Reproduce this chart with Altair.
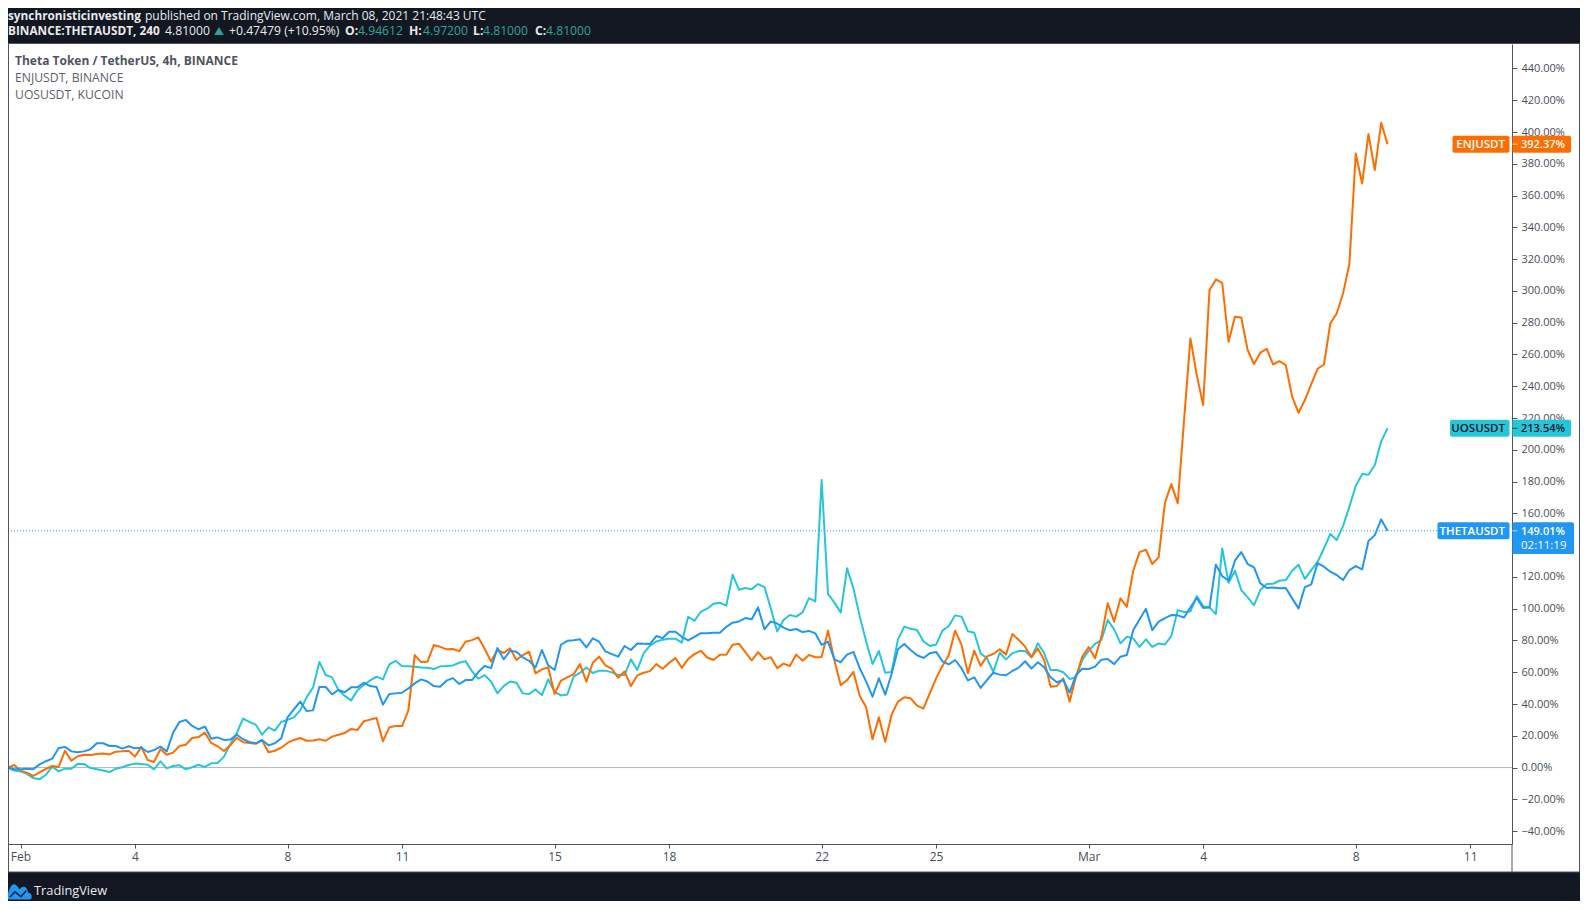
import altair as alt
import pandas as pd

FONT = "Open Sans"
DARK = "#131722"
GREY = "#4a4e59"

theta = [0,-1,-1,-0.7,-1,2,4,5.6,12.3,13,10.2,9.6,10.2,11.5,15.3,15.3,13.6,13.6,11.9,13.4,12.1,12.5,9.8,11,13.2,10.2,22,28.7,30,26.2,24.1,25.8,18.2,19,17.4,17.6,20.7,17.8,16.1,15.3,17.4,14,15.3,18.4,31.6,36.7,41.5,35.6,36,50.7,50.7,46.1,48.8,47.4,50.5,50.5,53.4,51.3,50.7,39.6,46.3,46.7,
47.1,49.8,53,55.5,54.2,51.3,50.9,54.7,56.3,52.6,55.1,55.1,60.1,63.9,62.6,75.2,68.1,73.5,72.9,69.3,67.2,63,74,64.3,61.4,77.3,79.8,80.2,80.7,75.6,81.3,79.2,73.1,71.4,69.8,76.5,74,78.1,77.9,77.7,82.8,81.5,85.5,85.5,82.3,80,82.3,84.6,84.6,84.9,84.9,88.6,91.2,92,94.1,93.3,100.8,87,92,90.7,
88.1,86.4,87.2,85.3,86,84.5,77.2,79.3,68.1,66.3,71.1,72.8,62.5,54.1,44.6,56.2,45.9,58.9,74.4,77.8,74,70.7,69,71.9,72.8,66.9,65,67.7,62.5,54.9,56.8,50.1,55.1,59.7,58.5,58.1,60.8,62.9,66.9,62.3,66.3,63.1,56.8,53.7,55.1,47.2,58.3,
62.2,62,63.5,67.9,68.3,65.1,69.8,70.8,86.5,93.2,99.9,86.5,91.8,94.1,96,95.8,94.5,100.8,106.7,100.4,100.8,127.7,120.5,117.6,130.2,135.6,128.1,126,115.9,113,113.4,112.8,113,106.5,100.2,113.6,115.3,128.7,126.4,123.3,121.2,118,124.3,126.8,124.7,142.6,146.3,156.2,149.01]

enj = [0,1.6,-1.9,-3.2,-5.3,-3,-0.9,1,0.4,10.6,4.3,7.1,8.1,7.9,8.5,8.8,8.3,10,10.2,10.6,6.9,13,4.8,3.5,11.5,8.1,9.4,13.6,14.4,18.6,19.2,22,15.5,13.4,10.4,14,18.8,15.9,15.5,15,17.1,9.6,10.6,12.5,15.5,17.4,18.6,16.9,17.1,17.8,16.9,19.5,20.7,21.8,24.3,23.7,29.1,30.2,31.2,16.5,25.3,26.2,
26.1,35.8,70.8,66.4,66.6,77.1,76,74.4,74.6,73.3,79.2,80.2,81.9,74.8,66.8,74,72.1,75,67.7,70.8,72.9,59.3,61.8,63,46.3,54.7,56.8,58.8,65.1,54,66,69.8,64.3,62.2,56.5,60.5,51.3,58,59.7,60.7,65.1,62.2,65.8,68.9,62.8,68.3,71.4,73.5,69.3,67.7,71,71,77.3,77.9,72.7,67.4,72.7,68.1,69.5,62.6,
65.4,63.9,71.1,67.3,70.9,69.4,69.6,86.2,67.7,51.8,55.1,60.2,45,37.9,17.8,31.6,16.3,33.3,41.5,44.2,43.6,39,
37.1,46.7,56.2,64,70.9,86.2,77.2,59.3,73.6,64,70,71.5,74.4,71.1,84.1,80.3,76.1,69.4,75,67.7,50.9,51.4,56.2,41.5,57.2,69.8,75.9,68.8,82.4,103.4,91.8,106.5,
101.2,123.9,135.6,137.1,128.1,132.3,166.9,178.4,166.3,
218.7,270.1,247,228.1,300.5,307.2,305.1,268,283.7,283.3,262.8,254,261.1,263.6,253.7,255.8,253.3,233.4,223.3,231.3,241.3,251,253.7,279.5,285.8,298.4,316.9,386.5,367.6,398.7,376,405.8,392.37]

uos = [0,-1.9,-2.4,-4,-6.6,-7.4,-4.5,0.6,-2.4,-0.7,-0.7,2.3,2.3,-0.3,-1.1,-1.9,-2.8,-0.7,0.2,1.6,2.5,2.3,1.8,-1.1,3.9,-0.5,1,1.4,-1.1,0.2,1.8,0.4,2.7,2.9,6.9,14.8,21.6,30.8,28.7,27,20.7,25.3,23.2,28.7,30,31.6,36.2,44.2,50.3,66.5,58.3,56.8,48.8,45.1,42.3,48.6,52,54.9,57.2,55.5,65,67.1,
63.9,63.7,63.5,63,62.8,62,63.7,63.9,64.3,66,67,60.7,55.9,58.2,54.2,46.7,51.3,54.2,53.4,46.7,46.3,49.2,45.6,55.5,47.7,45.4,46,57.2,59.7,63,59.5,61,61,59.9,58.2,58.2,68.1,61.4,71.9,76.7,79.4,80.5,81.1,81.1,78.6,94.9,92.4,98.1,100,103.1,103.7,101.9,121.4,111.9,113,112.3,115.5,113.6,100.2,85.7,
92.9,96,95,97.7,106.7,104.6,181,109.3,103.8,97.7,125.4,112.8,
95,79.3,65.2,73.4,59.7,60.2,80.7,88.7,87.4,86.6,79.5,76.5,77.4,86.2,89.1,95.8,95,85.8,84.9,71.9,68.8,60.2,72.3,68.1,71.9,73.4,73.4,69.4,78.2,71.9,61.4,61.4,60,55.8,56.8,67.7,73.6,77.8,80.3,92.9,87,78.2,
82.3,81.3,76,80.7,76,78.1,77.5,82.8,99.1,97.9,98.3,107.9,101.6,100.8,96.6,137.9,116.3,123.9,111.7,107.1,102.3,111.7,115.5,115.7,117.6,118,123.9,127.7,118.8,124.3,129.5,137.9,147,143.2,152,164.2,177.2,184.7,184.3,190.4,205.3,213.54]

assert len(theta) == len(enj) == len(uos) == 218

times = pd.date_range("2021-01-31 16:00", periods=218, freq="4h").strftime("%Y-%m-%dT%H:%M:%SZ").tolist()
series_names = ["UOSUSDT", "ENJUSDT", "THETAUSDT"]
series_colors = ["#26c6da", "#ff6d00", "#2196f3"]
series_values = [uos, enj, theta]

date_ticks = ["2021-02-01T00:00:00Z","2021-02-04T00:00:00Z","2021-02-08T00:00:00Z","2021-02-11T00:00:00Z",
              "2021-02-15T00:00:00Z","2021-02-18T00:00:00Z","2021-02-22T00:00:00Z","2021-02-25T00:00:00Z",
              "2021-03-01T00:00:00Z","2021-03-04T00:00:00Z","2021-03-08T00:00:00Z","2021-03-11T00:00:00Z"]
pct_ticks = list(range(-40, 441, 20))

X_DOMAIN = ["2021-01-31T16:08:00Z", "2021-03-12T02:18:00Z"]
Y_DOMAIN = [-48.1, 455.4]
W, H = 1504, 800
yscale = alt.Scale(domain=Y_DOMAIN, nice=False, zero=False)
xscale = alt.Scale(type="utc", domain=X_DOMAIN, nice=False)

xaxis = alt.Axis(
    values=date_ticks,
    labelExpr="utcdate(datum.value)==1 ? utcFormat(datum.value,'%b') : utcFormat(datum.value,'%-d')",
    labelFont=FONT, labelFontSize=12, labelColor=GREY, labelPadding=3, labelFlush=False,
    tickColor="#50535e", tickSize=4, domainColor="#50535e", grid=False, labelOverlap=False)
yaxis = alt.Axis(
    orient="right", values=pct_ticks, labelExpr="format(datum.value,'.2f')+'%'",
    labelFont=FONT, labelFontSize=11, labelColor=GREY, labelPadding=4,
    tickColor="#50535e", tickSize=5, domainColor="#50535e", grid=False, labelOverlap=False)
X = alt.X("t:T", scale=xscale, title=None, axis=xaxis)
Y = alt.Y("v:Q", scale=yscale, title=None, axis=yaxis)


def px(x):
    return x - 8


def py(y):
    return y - 44


one = alt.Data(values=[{"a": 1}])


def band(x1, x2, y1, y2, fill=DARK):
    return alt.Chart(one).mark_rect(fill=fill).encode(
        x=alt.value(px(x1)), x2=alt.value(px(x2)), y=alt.value(py(y1)), y2=alt.value(py(y2)))


def seg(x1, x2, y1, y2, color, width=1):
    return alt.Chart(one).mark_rule(color=color, strokeWidth=width).encode(
        x=alt.value(px(x1)), x2=alt.value(px(x2)), y=alt.value(py(y1)), y2=alt.value(py(y2)))


def txt(s, x, y, color, bold=False, size=12.2, align="left", font=FONT):
    return alt.Chart(one).mark_text(
        text=s, color=color, font=font, fontSize=size, align=align, baseline="middle",
        fontWeight="bold" if bold else "normal").encode(x=alt.value(px(x)), y=alt.value(py(y)))


layers_lines = [
    alt.Chart(alt.Data(values=[{"t": t, "v": v} for t, v in zip(times, vals)]))
    .mark_line(strokeWidth=2, strokeJoin="round", color=c).encode(x=X, y=Y)
    for vals, c in zip(series_values, series_colors)
]

zero_rule = alt.Chart(alt.Data(values=[{"v": 0}])).mark_rule(color="#b2b5be", strokeWidth=1).encode(
    y=Y, x=alt.value(0), x2=alt.value(W))
price_rule = alt.Chart(alt.Data(values=[{"v": theta[-1]}])).mark_rule(
    color="#2196f3", strokeWidth=1, strokeDash=[1, 2]).encode(
    y=Y, x=alt.value(0), x2=alt.value(px(1437)))

layers = [zero_rule, price_rule] + layers_lines

# outer frame
layers += [
    band(8, 1580, 8, 43.5), band(8, 1580, 872, 901),
    seg(8, 1580, 43.5, 43.5, "#50535e"), seg(8, 1580, 872, 872, "#50535e"),
    seg(8.5, 8.5, 43.5, 872, "#50535e"), seg(1579.5, 1579.5, 43.5, 872, "#50535e"),
    seg(1512, 1512, 844, 872, "#50535e"),
]


def tag(name, value, left, right2, fill, fg):
    out = []
    d = alt.Data(values=[{"v": value}])
    out.append(alt.Chart(d).mark_rect(height=17, fill=fill, cornerRadius=2).encode(
        x=alt.value(px(left)), x2=alt.value(px(1509.5)), y=Y))
    out.append(alt.Chart(d).mark_rect(height=17, fill=fill, cornerRadius=2).encode(
        x=alt.value(px(1512.5)), x2=alt.value(px(right2)), y=Y))
    out.append(alt.Chart(d).mark_text(text=name, color=fg, font=FONT, fontSize=11.5, fontWeight=600, align="right", dy=1).encode(
        x=alt.value(px(1505)), y=Y))
    out.append(alt.Chart(d).mark_text(text=f"{value:.2f}%", color=fg, font=FONT, fontSize=11, fontWeight=600, align="left", dy=1).encode(
        x=alt.value(px(1521)), y=Y))
    out.append(alt.Chart(d).mark_tick(color=fg, size=5, orient="horizontal", thickness=1).encode(
        x=alt.value(px(1515)), y=Y))
    return out


layers += tag("ENJUSDT", enj[-1], 1452.5, 1571, "#ff6d00", "#ffffff")
layers += tag("UOSUSDT", uos[-1], 1450, 1571, "#26c6da", DARK)
layers += [band(1512.5, 1574, 535, 554, "#2196f3")]
layers += tag("THETAUSDT", theta[-1], 1437.5, 1574, "#2196f3", "#ffffff")
layers += [txt("02:11:19", 1521, 545.5, "#ffffff", size=11.5)]

# header text
WHITE = "#e8e9ec"
TEAL = "#26a69a"
LINE1, LINE2 = 16, 31
layers += [
    txt("synchronisticinvesting", 8, LINE1, WHITE, bold=True, size=11.8),
    txt("published on TradingView.com, March 08, 2021 21:48:43 UTC", 145, LINE1, WHITE, size=12),
    txt("BINANCE:THETAUSDT, 240", 8, LINE2, WHITE, bold=True, size=11.8),
    txt("4.81000", 165, LINE2, WHITE),
    txt("+0.47479 (+10.95%)", 229, LINE2, WHITE),
    txt("O:", 345, LINE2, WHITE, bold=True), txt("4.94612", 358, LINE2, TEAL),
    txt("H:", 409, LINE2, WHITE, bold=True), txt("4.97200", 423, LINE2, TEAL),
    txt("L:", 473, LINE2, WHITE, bold=True), txt("4.81000", 483, LINE2, TEAL),
    txt("C:", 535, LINE2, WHITE, bold=True), txt("4.81000", 546, LINE2, TEAL),
    alt.Chart(one).mark_point(shape="triangle-up", filled=True, fill=TEAL, size=90, opacity=1).encode(
        x=alt.value(px(219)), y=alt.value(py(31))),
    txt("Theta Token / TetherUS, 4h, BINANCE", 15, 60.8, "#50535e", bold=True, size=12),
    txt("ENJUSDT, BINANCE", 15, 78, "#5d606b"),
    txt("UOSUSDT, KUCOIN", 15, 95.2, "#5d606b"),
    txt("TradingView", 34, 891, "#e8e9ec", size=12.8),
    alt.Chart(one).mark_point(
        shape="M-0.74,0.62 C-0.95,0.62 -1.05,0.2 -0.82,0.1 C-0.75,-0.2 -0.6,-0.56 -0.38,-0.56 C-0.15,-0.56 -0.05,-0.2 0.08,-0.2 C0.15,-0.3 0.25,-0.36 0.38,-0.36 C0.6,-0.36 0.65,-0.05 0.72,0.1 C1.05,0.15 1.05,0.6 0.8,0.62 Z",
        filled=True, fill="#2196f3", size=676, opacity=1).encode(
        x=alt.value(px(19)), y=alt.value(py(891.5))),
    alt.Chart(one).mark_point(
        shape="M-0.7,0.42 L-0.3,0.02 L0.15,0.4 L0.55,-0.05",
        filled=False, stroke=DARK, strokeWidth=1.5, size=676, opacity=1).encode(
        x=alt.value(px(19)), y=alt.value(py(891.5))),
]

chart = alt.layer(*layers).properties(
    width=W, height=H, background="#ffffff",
    padding={"left": 0, "top": 36, "right": 68, "bottom": 57},
    autosize=alt.AutoSizeParams(type="none"),
).configure_view(stroke=None)

chart.save("out.html", embed_options={"renderer": "svg", "actions": False})
